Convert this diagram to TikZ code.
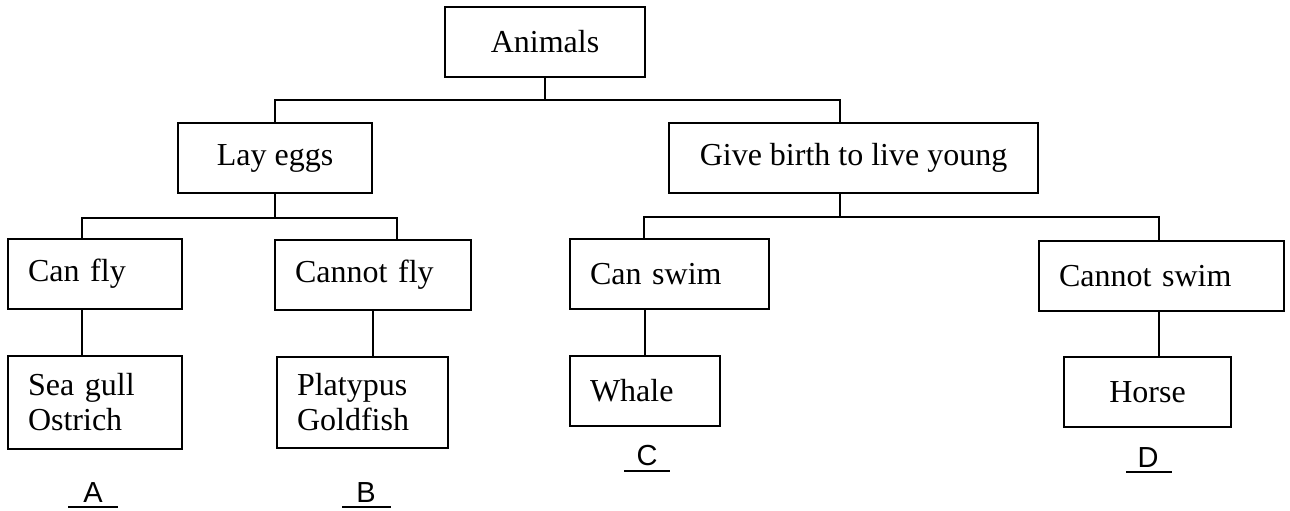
\documentclass[tikz,border=0pt]{standalone}
\usepackage{fontspec}
\setmainfont{Liberation Serif}
\newfontfamily\lettrfont{Liberation Sans}

\begin{document}
\begin{tikzpicture}[x=1pt,y=-1pt,
  box/.style={draw, line width=1.6pt, minimum height=70pt, inner sep=0pt,
    font=\fontsize{32}{35}\selectfont},
  lbox/.style={box, align=left, inner xsep=20pt},
  cbox/.style={box, align=center},
  link/.style={line width=1.5pt},
  lettr/.style={inner sep=0pt, anchor=base, font=\lettrfont\fontsize{29}{30}\selectfont},
  uline/.style={line width=1.8pt}]
\useasboundingbox (0,0) rectangle (1290,511);
% Drawing boxes
% Row 1: Animals
\node[cbox, minimum width=200pt] (animals) at (545,42) {Animals};
% Row 2: Lay eggs / Give birth
\node[cbox, minimum width=194pt] (layeggs) at (275,158) {Lay eggs};
\node[cbox, minimum width=369pt] (givebirth) at (853.5,158) {Give birth to live young};
% Row 3: fly / swim
\node[lbox, text width=134pt] (canfly) at (95,274) {Can fly};
\node[lbox, text width=156pt] (cannotfly) at (373,275) {Cannot fly};
\node[lbox, text width=159pt] (canswim) at (669.5,274) {Can swim};
\node[lbox, text width=205pt] (cannotswim) at (1161.5,276) {Cannot swim};
% Row 4: animals named
\node[lbox, text width=134pt, minimum height=93pt] (seagull) at (95,402.5) {Sea gull\\Ostrich};
\node[lbox, text width=131pt, minimum height=91pt] (platypus) at (362.5,402.5) {Platypus\\Goldfish};
\node[lbox, text width=110pt] (whale) at (645,391) {Whale};
\node[cbox, minimum width=167pt] (horse) at (1147.5,392) {Horse};
% Done with boxes; drawing links
\draw[link] (animals.south) -- ++(0,22) -| (layeggs.north);
\draw[link] (animals.south) -- ++(0,22) -| ([xshift=-13.5pt]givebirth.north);
\draw[link] (layeggs.south) -- ++(0,24) -| ([xshift=-13pt]canfly.north);
\draw[link] (layeggs.south) -- ++(0,24) -| ([xshift=24pt]cannotfly.north);
\draw[link] ([xshift=-13.5pt]givebirth.south) -- ++(0,23) -| ([xshift=-25.5pt]canswim.north);
\draw[link] ([xshift=-13.5pt]givebirth.south) -- ++(0,23) -| ([xshift=-2.5pt]cannotswim.north);
\draw[link] ([xshift=-13pt]canfly.south) -- ([xshift=-13pt]seagull.north);
\draw[link] (cannotfly.south) -- (cannotfly.south |- platypus.north);
\draw[link] (whale.north) -- (whale.north |- canswim.south);
\draw[link] ([xshift=-2.5pt]cannotswim.south) -- ([xshift=-2.5pt]cannotswim.south |- horse.north);
% Done with links; drawing answer letters
\node[lettr] (lblA) at (93,502) {A};
\node[lettr] (lblB) at (366,502) {B};
\node[lettr] (lblC) at (647,465) {C};
\node[lettr] (lblD) at (1148,467) {D};
\draw[uline] ([xshift=-25pt,yshift=-5pt]lblA.base) -- ([xshift=25pt,yshift=-5pt]lblA.base);
\draw[uline] ([xshift=-24pt,yshift=-5pt]lblB.base) -- ([xshift=25pt,yshift=-5pt]lblB.base);
\draw[uline] ([xshift=-23pt,yshift=-6pt]lblC.base) -- ([xshift=23pt,yshift=-6pt]lblC.base);
\draw[uline] ([xshift=-22pt,yshift=-5pt]lblD.base) -- ([xshift=24pt,yshift=-5pt]lblD.base);
% Done with letters
\end{tikzpicture}
\end{document}
